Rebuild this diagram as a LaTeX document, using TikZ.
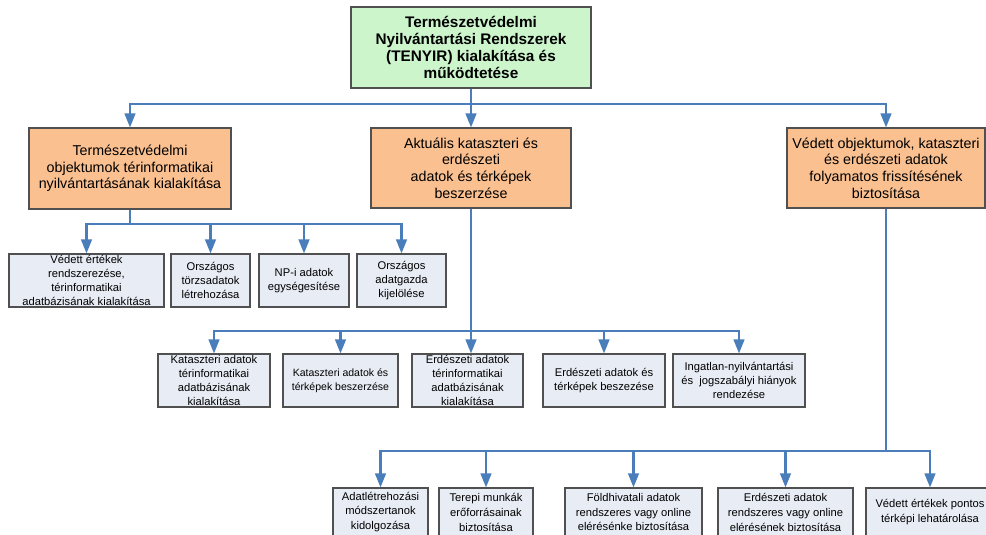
\documentclass[tikz,border=0pt]{standalone}
\usepackage{fontspec}
\setmainfont{Liberation Sans}
\usetikzlibrary{arrows.meta}

\definecolor{linkblue}{HTML}{4A7EBB}
\definecolor{topfill}{HTML}{CCF5CC}
\definecolor{midfill}{HTML}{FAC090}
\definecolor{leaffill}{HTML}{E8EDF5}
\definecolor{edgegray}{HTML}{505050}

\tikzset{
  box/.style={draw=edgegray, line width=0.8pt, align=center, inner sep=0pt},
  sz/.style 2 args={minimum width=#1*0.75pt, minimum height=#2*0.75pt},
  topbox/.style={box, fill=topfill, font=\fontsize{11.5}{12.8}\selectfont\bfseries},
  midbox/.style={box, fill=midfill, font=\fontsize{10.7}{12.5}\selectfont},
  leaf/.style={box, fill=leaffill, font=\fontsize{8.4}{10.5}\selectfont},
  leafb/.style={box, fill=leaffill, font=\fontsize{8.4}{11.2}\selectfont},
  link/.style={draw=linkblue, line width=1.6pt},
  tip/.style={link, -{Triangle[width=8pt,length=10.5pt]}},
}

\begin{document}
\begin{tikzpicture}[x=0.75pt, y=-0.75pt]
\useasboundingbox (0,0) rectangle (986,535);
\clip (0,0) rectangle (986,535);

% main goal
\node[topbox, sz={240}{81}] (T) at (471,47.5)
  {Természetvédelmi\\Nyilvántartási Rendszerek\\(TENYIR) kialakítása és\\működtetése};

% three main tasks
\node[midbox, sz={202}{81}] (M1) at (130,168.5)
  {Természetvédelmi\\objektumok térinformatikai\\nyilvántartásának kialakítása};
\node[midbox, sz={200}{80}] (M2) at (471,168)
  {Aktuális kataszteri és\\erdészeti\\adatok és térképek\\beszerzése};
\node[midbox, sz={198}{80}] (M3) at (886,168)
  {Védett objektumok, kataszteri\\és erdészeti adatok\\folyamatos frissítésének\\biztosítása};

% sub-tasks of the first task
\node[leaf, sz={155}{53}] (A1) at (86.5,280.5)
  {Védett értékek\\rendszerezése,\\térinformatikai\\adatbázisának kialakítása};
\node[leaf, sz={79}{53}] (A2) at (210.5,280.5)
  {Országos\\törzsadatok\\létrehozása};
\node[leaf, sz={90}{53}] (A3) at (304,280.5)
  {NP-i adatok\\egységesítése};
\node[leaf, sz={89}{53}] (A4) at (401.5,280.5)
  {Országos\\adatgazda\\kijelölése};

% sub-tasks of the second task
\node[leaf, sz={112}{53}] (B1) at (214,380.5)
  {Kataszteri adatok\\térinformatikai\\adatbázisának\\kialakítása};
\node[leaf, sz={115}{53}, font=\fontsize{7.9}{10.5}\selectfont] (B2) at (340.5,380.5)
  {Kataszteri adatok és\\térképek beszerzése};
\node[leaf, sz={111}{53}] (B3) at (467.5,380.5)
  {Erdészeti adatok\\térinformatikai\\adatbázisának\\kialakítása};
\node[leaf, sz={122}{53}] (B4) at (604,380.5)
  {Erdészeti adatok és\\térképek beszezése};
\node[leaf, sz={132}{53}] (B5) at (739,380.5)
  {Ingatlan-nyilvántartási\\és~~jogszabályi hiányok\\rendezése};

% sub-tasks of the third task
\node[leafb, sz={95}{48}] (C1) at (380.5,512)
  {Adatlétrehozási\\módszertanok\\kidolgozása};
\node[leafb, sz={94}{48}] (C2) at (486,512)
  {Terepi munkák\\erőforrásainak\\biztosítása};
\node[leafb, sz={137}{48}] (C3) at (633.5,512)
  {Földhivatali adatok\\rendszeres vagy online\\elérésénke biztosítása};
\node[leafb, sz={135}{48}] (C4) at (785.5,512)
  {Erdészeti adatok\\rendszeres vagy online\\elérésének biztosítása};
\node[leafb, sz={128}{48}] (C5) at (930,512)
  {Védett értékek pontos\\térképi lehatárolása};

% bus junctions
\coordinate (b0) at (471,104);
\coordinate (b1) at (130,224);
\coordinate (b2) at (471,331);
\coordinate (b3) at (886,451);

% level 1 connectors
\draw[tip] (T.south) -- (M2.north);
\draw[tip] (b0) -| (M1.north);
\draw[tip] (b0) -| (M3.north);

% level 2 connectors, first task
\draw[link] (M1.south) -- (b1);
\foreach \n in {A1,A2,A3,A4} \draw[tip] (b1) -| (\n.north);

% level 2 connectors, second task
\draw[tip] (M2.south) -- (M2.south |- B3.north);
\foreach \n in {B1,B2,B4,B5} \draw[tip] (b2) -| (\n.north);

% level 2 connectors, third task
\draw[link] (M3.south) -- (b3);
\foreach \n in {C1,C2,C3,C4,C5} \draw[tip] (b3) -| (\n.north);
\end{tikzpicture}
\end{document}
